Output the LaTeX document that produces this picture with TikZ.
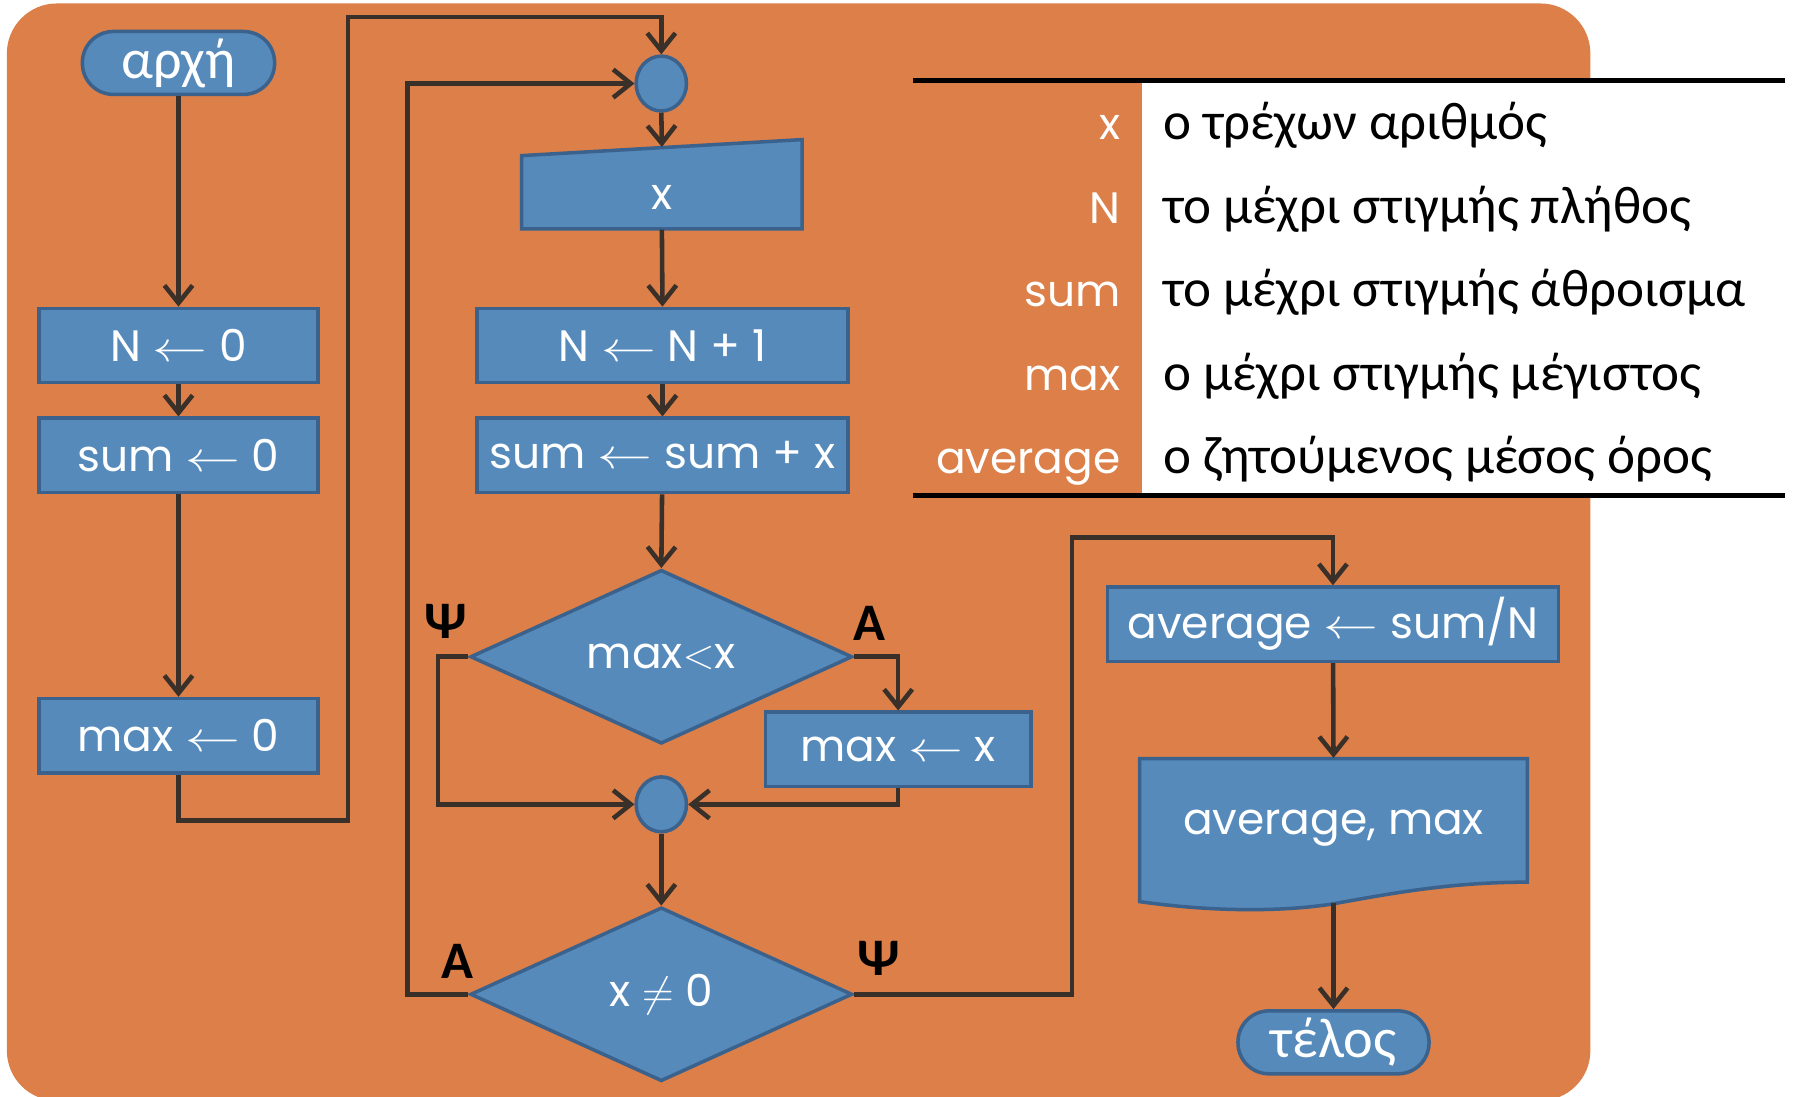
\documentclass[tikz,border=0pt]{standalone}
\usepackage{fontspec}
\setmainfont{Poppins}
\newfontfamily\greekfont{Carlito}
\usetikzlibrary{shapes.geometric,arrows.meta,calc}
\definecolor{bgorange}{RGB}{220,127,72}
\definecolor{boxblue}{RGB}{85,138,187}
\definecolor{boxedge}{RGB}{58,98,140}
\definecolor{flowline}{RGB}{58,48,42}
\def\unitpx{0.01144cm}
\newcommand\assignarrow{\mathrel{\scalebox{1.3}[1]{$\leftarrow$}}}

\tikzset{
  shape base/.style={fill=boxblue, draw=boxedge, line width=1pt, text=white, inner sep=0pt,
    font=\fontsize{12.5}{15}\selectfont},
  terminal/.style={shape base, rectangle, rounded corners=0.31cm, minimum height=55*\unitpx,
    minimum width=168*\unitpx, font=\greekfont\fontsize{16}{18}\selectfont},
  assign/.style={shape base, rectangle, minimum height=65*\unitpx},
  joint/.style={shape base, ellipse, minimum width=44*\unitpx, minimum height=48*\unitpx},
  test/.style={shape base, diamond, aspect=2.2, minimum width=334*\unitpx, minimum height=152*\unitpx},
  ghost/.style={inner sep=0pt, text=white, font=\fontsize{12.5}{15}\selectfont},
  flow/.style={draw=flowline, line width=1.3pt, -{Straight Barb[length=5pt,width=8pt]}},
  branch/.style={font=\greekfont\bfseries\fontsize{15}{17}\selectfont},
  varname/.style={anchor=base east, inner sep=0pt, text=white, font=\fontsize{12.5}{15}\selectfont},
  vardesc/.style={anchor=base west, inner sep=0pt, font=\greekfont\fontsize{15.1}{18}\selectfont}
}

\begin{document}
\begin{tikzpicture}[x=0.01144cm, y=-0.01144cm]
\useasboundingbox (0,0) rectangle (1568,958);
\fill[bgorange, rounded corners=0.5cm] (6,3) rectangle (1390,962);

% legend
\fill[white] (998,70) rectangle (1568,433);
\draw[line width=1.4pt] (798,70) -- (1560,70);
\draw[line width=1.4pt] (798,433) -- (1560,433);
\foreach \v/\d [count=\i] in {x/ο τρέχων αριθμός, N/το μέχρι στιγμής πλήθος,
    sum/το μέχρι στιγμής άθροισμα, max/ο μέχρι στιγμής μέγιστος,
    average/ο ζητούμενος μέσος όρος}
{
  \node[varname] (var\i) at (980,49+73*\i) {\v};
  \node[vardesc] (desc\i) at (1016,49+73*\i) {\d};
}

% nodes
\node[terminal] (start) at (156,55) {αρχή};
\node[assign, minimum width=244*\unitpx] (n0) at (156,302) {N $\assignarrow$ 0};
\node[assign, minimum width=244*\unitpx] (s0) at (156,398) {sum $\assignarrow$ 0};
\node[assign, minimum width=244*\unitpx] (m0) at (156,643) {max $\assignarrow$ 0};

\node[joint] (c1) at (578,73) {};
\filldraw[shape base] (456,136) -- (701,122) -- (701,200) -- (456,200) -- cycle;
\node[ghost, minimum width=245*\unitpx, minimum height=64*\unitpx] (inx) at (578.5,168) {\raisebox{-5pt}[2pt][2pt]{x}};
\node[assign, minimum width=324*\unitpx] (inc) at (579,302) {N $\assignarrow$ N + 1};
\node[assign, minimum width=324*\unitpx] (acc) at (579,398) {sum $\assignarrow$ sum + x};
\node[test] (d1) at (578,574) {max$<$x};
\node[assign, minimum width=232*\unitpx] (upd) at (785,655) {max $\assignarrow$ x};
\node[joint] (c2) at (578,703) {};
\node[test] (d2) at (578,869) {x $\neq$ 0};

\node[assign, minimum width=394*\unitpx] (avg) at (1165,545.5) {average $\assignarrow$ sum/N};
\filldraw[shape base] (996,663) -- (1335,663) -- (1335,771)
  .. controls (1270,771) and (1220,780) .. (1165,790)
  .. controls (1120,797) and (1060,797) .. (996,788) -- cycle;
\node[ghost, minimum width=339*\unitpx, minimum height=107*\unitpx] (outp) at (1165.5,716.5) {\raisebox{-4.3pt}[2pt][2pt]{average, max}};
\node[terminal, minimum width=167*\unitpx] (stop) at (1165.5,911) {τέλος};

\node[branch] (no1) at (390,543) {Ψ};
\node[branch] (yes1) at (760,545) {Α};
\node[branch] (yes2) at (400,840) {Α};
\node[branch] (no2) at (768,838) {Ψ};

% connectors
\coordinate (j1) at (304,717);
\coordinate (j2) at (304,15);
\coordinate (j3) at (383,703);
\coordinate (j4) at (356,73);
\coordinate (j5) at (937,470);

\draw[flow] (start) -- (n0);
\draw[flow] (n0) -- (s0);
\draw[flow] (s0) -- (m0);
\draw[flow] (m0.south) |- (j1) -- (j2) -| (c1.north);
\draw[flow] (c1.south) -- ($(inx.north)+(0,-7)$);
\draw[flow] (inx.south) -- (inc.north);
\draw[flow] (inc) -- (acc);
\draw[flow] (acc) -- (d1.north);
\draw[flow] (d1.west) -| (j3) -- (c2.west);
\draw[flow] (d1.east) -| (upd.north);
\draw[flow] (upd.south) |- (c2.east);
\draw[flow] (c2.south) -- (d2.north);
\draw[flow] (d2.west) -| (j4) -- (c1.west);
\draw[flow] (d2.east) -| (j5) -| (avg.north);
\draw[flow] (avg) -- (outp.north);
\draw[flow] ($(outp.south)+(0,19)$) -- (stop.north);
\end{tikzpicture}
\end{document}
